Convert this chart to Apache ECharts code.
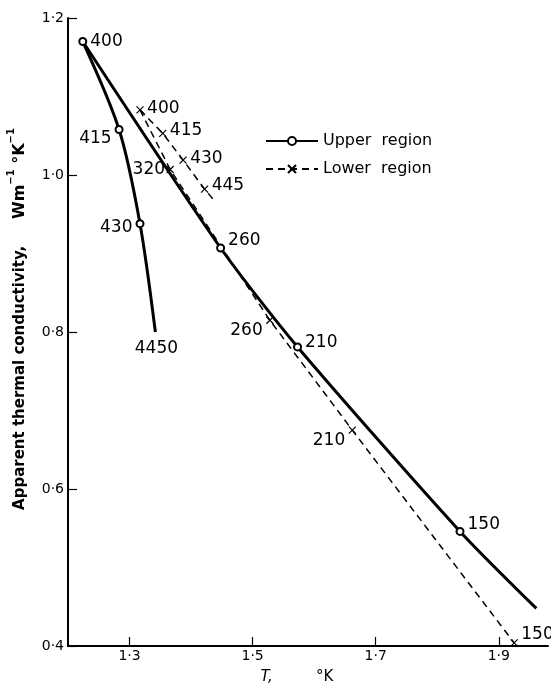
<!DOCTYPE html>
<html>
<head>
<meta charset="utf-8">
<script src="https://cdn.jsdelivr.net/npm/echarts@6/dist/echarts.min.js"></script>
<style>
html,body{margin:0;padding:0;background:#fff;}
#chart{width:551px;height:691px;}
</style>
</head>
<body>
<div id="chart"></div>
<script>
// ---- Data ----
const xTicks = [1.3, 1.5, 1.7, 1.9];
const yTicks = [0.4, 0.6, 0.8, 1.0, 1.2];

// Upper region, main branch
const upperMainT = [1.224, 1.448, 1.573, 1.837, 1.961];
const upperMainK = [1.170, 0.907, 0.781, 0.546, 0.448];
const upperMainLabels = ['400', '260', '210', '150', ''];

// Upper region, steep branch
const upperLeftT = [1.224, 1.283, 1.317, 1.342];
const upperLeftK = [1.170, 1.058, 0.938, 0.800];
const upperLeftLabels = ['', '415', '430', '4450'];

// Lower region, short branch
const lowerAT = [1.317, 1.354, 1.387, 1.422, 1.436];
const lowerAK = [1.083, 1.053, 1.019, 0.982, 0.969];
const lowerALabels = ['400', '415', '430', '445', ''];

// Lower region, long branch
const lowerBT = [1.317, 1.366, 1.528, 1.662, 1.925];
const lowerBK = [1.083, 1.007, 0.815, 0.675, 0.404];
const lowerBLabels = ['', '320', '260', '210', '150'];

// ---- Build chart ----
const FONT = 'DejaVu Sans';
const fmt = v => Number(v).toFixed(1).replace('.', '\u00B7');
const xSym = 'path://M0 0L10 10M10 0L0 10';

function build(T, K, labels, place, noMarker) {
  return T.map((t, i) => {
    const item = { value: [t, K[i]] };
    const p = place[i] || {};
    item.label = {
      show: !!labels[i],
      formatter: labels[i],
      position: p.pos || 'right',
      offset: p.off || [0, 0],
      distance: p.dist != null ? p.dist : 3
    };
    if (noMarker.indexOf(i) >= 0) {
      item.symbol = 'circle';
      item.symbolSize = 1;
      item.itemStyle = { color: 'rgba(0,0,0,0)', borderWidth: 0 };
    }
    return item;
  });
}

const labelText = { color: '#000', fontFamily: FONT, fontSize: 17 };

const chart = echarts.init(document.getElementById('chart'), null, { renderer: 'canvas' });
chart.setOption({
  backgroundColor: '#fff',
  animation: false,
  grid: { left: 68, right: 3, top: 18, bottom: 45, containLabel: false, outerBoundsMode: 'none' },
  legend: {
    orient: 'vertical',
    left: 260,
    top: 128,
    itemWidth: 52,
    itemHeight: 10,
    itemGap: 12,
    data: ['Upper region', 'Lower region'],
    textStyle: { color: '#000', fontFamily: FONT, fontSize: 16 },
    formatter: n => n.replace(' ', '  ')
  },
  xAxis: {
    type: 'value',
    min: 1.2,
    max: 1.98,
    splitLine: { show: false },
    axisLine: { onZero: false, lineStyle: { color: '#000', width: 2 } },
    axisTick: { inside: true, length: 9, customValues: xTicks, lineStyle: { color: '#000', width: 1.2 } },
    axisLabel: { customValues: xTicks, formatter: fmt, color: '#000', fontFamily: FONT, fontSize: 14, margin: 3 },
    name: '{t|T,}             {k|°K}',
    nameLocation: 'middle',
    nameGap: 24,
    nameTextStyle: {
      padding: [0, 22, 0, 0],
      rich: {
        t: { fontFamily: FONT, fontStyle: 'italic', fontSize: 15, color: '#000' },
        k: { fontFamily: FONT, fontSize: 15, color: '#000' }
      }
    }
  },
  yAxis: {
    type: 'value',
    min: 0.4,
    max: 1.2,
    interval: 0.2,
    splitLine: { show: false },
    axisLine: { onZero: false, lineStyle: { color: '#000', width: 2 } },
    axisTick: { inside: true, length: 9, lineStyle: { color: '#000', width: 1.2 } },
    axisLabel: { formatter: fmt, color: '#000', fontFamily: FONT, fontSize: 14, margin: 4 },
    name: '{a|Apparent thermal conductivity,}        {b|Wm}{s|\u22121}{b| °K}{s|\u22121}',
    nameLocation: 'middle',
    nameGap: 40,
    nameRotate: 90,
    nameTextStyle: {
      padding: [0, 0, 0, 26],
      rich: {
        a: { fontFamily: FONT, fontWeight: 'bold', fontSize: 15, color: '#000', verticalAlign: 'bottom', lineHeight: 22 },
        b: { fontFamily: FONT, fontWeight: 'bold', fontSize: 16, color: '#000', verticalAlign: 'bottom', lineHeight: 22 },
        s: { fontFamily: FONT, fontWeight: 'bold', fontSize: 10, color: '#000', verticalAlign: 'top', lineHeight: 22 }
      }
    }
  },
  series: [
    {
      name: 'Upper region', type: 'line', smooth: 0.25,
      symbol: 'emptyCircle', symbolSize: 7,
      lineStyle: { color: '#000', width: 3 },
      itemStyle: { color: '#000', borderColor: '#000', borderWidth: 1.2 },
      label: labelText,
      data: build(upperMainT, upperMainK, upperMainLabels, [
        { pos: 'right', off: [0, 0] },
        { pos: 'right', off: [0, -7] },
        { pos: 'right', off: [0, -4] },
        { pos: 'right', off: [0, -7] },
        {}
      ], [4])
    },
    {
      name: 'Upper region', type: 'line', smooth: 0.3,
      symbol: 'emptyCircle', symbolSize: 7,
      lineStyle: { color: '#000', width: 3 },
      itemStyle: { color: '#000', borderColor: '#000', borderWidth: 1.2 },
      label: labelText,
      data: build(upperLeftT, upperLeftK, upperLeftLabels, [
        {},
        { pos: 'left', off: [0, 9] },
        { pos: 'left', off: [0, 4] },
        { pos: 'bottom', off: [1, 0], dist: 8 }
      ], [0, 3])
    },
    {
      name: 'Lower region', type: 'line',
      symbol: xSym, symbolSize: 7,
      lineStyle: { color: '#000', width: 1.5, type: [7, 5] },
      itemStyle: { color: 'rgba(0,0,0,0)', borderColor: '#000', borderWidth: 1.2 },
      label: labelText,
      data: build(lowerAT, lowerAK, lowerALabels, [
        { pos: 'right', off: [0, -1] },
        { pos: 'right', off: [0, -3] },
        { pos: 'right', off: [0, -2] },
        { pos: 'right', off: [0, -4] },
        {}
      ], [4])
    },
    {
      name: 'Lower region', type: 'line',
      symbol: xSym, symbolSize: 7,
      lineStyle: { color: '#000', width: 1.5, type: [7, 5] },
      itemStyle: { color: 'rgba(0,0,0,0)', borderColor: '#000', borderWidth: 1.2 },
      label: labelText,
      data: build(lowerBT, lowerBK, lowerBLabels, [
        {},
        { pos: 'left', off: [0, 0], dist: 1 },
        { pos: 'left', off: [0, 10] },
        { pos: 'left', off: [0, 10] },
        { pos: 'right', off: [0, -8] }
      ], [0])
    }
  ]
});
</script>
</body>
</html>
